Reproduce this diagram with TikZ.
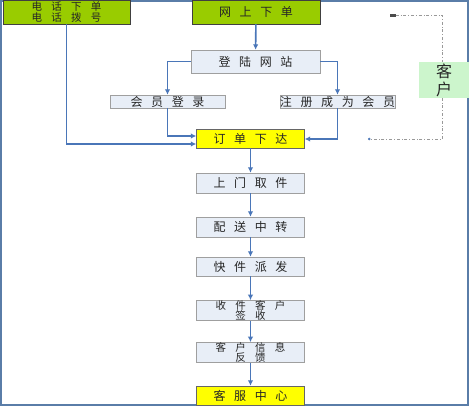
\documentclass[tikz,border=0pt]{standalone}
\usepackage{fontspec}
\newfontfamily\cjk[LetterSpace=72]{Noto Sans CJK SC}
\newfontfamily\cjkstretto[LetterSpace=88]{Noto Sans CJK SC}
\newfontfamily\cjkbig{Noto Sans CJK SC}
\usetikzlibrary{arrows.meta}
\definecolor{cornice}{HTML}{5A7DA8}
\definecolor{freccia}{HTML}{4A76B8}
\definecolor{verde}{HTML}{99CC00}
\definecolor{grigioblu}{HTML}{E8EEF7}
\definecolor{giallo}{HTML}{FFFF00}
\definecolor{verdino}{HTML}{CCF5CC}

\begin{document}
\begin{tikzpicture}[x=1pt, y=-1pt,
    passo/.style={draw=gray!75, fill=grigioblu, minimum width=108pt, minimum height=20pt, inner sep=0pt,
      align=center, text=black!85, font=\cjk\fontsize{12}{12}\selectfont},
    doppio/.style={passo, font=\cjkstretto\fontsize{10.5}{10.5}\selectfont},
    inizio/.style={passo, draw=black!75, fill=verde},
    evidenza/.style={passo, draw=black!60, fill=giallo},
    freccia/.style={draw=freccia, line width=1.6pt, -{Latex[length=5.5pt,width=5.5pt]}}]
  % Cornice e area
  \useasboundingbox (0,0) rectangle (469,406);
  \draw[cornice, line width=2pt] (1,1) rectangle (468,405);

  % Definizione dei nodi
  \node[inizio, minimum width=127pt, minimum height=24pt, font=\cjkstretto\fontsize{10.5}{10.5}\selectfont] (tel) at (66.5,12) {电话下单\\电话拨号};
  \node[inizio, minimum width=128pt, minimum height=24pt] (web) at (256,12) {网上下单};
  \node[passo, minimum width=129pt, minimum height=23pt] (sito) at (255.5,61.5) {登陆网站};
  \node[passo, minimum width=115pt, minimum height=13pt] (socio) at (167.5,101.5) {会员登录};
  \node[passo, minimum width=115pt, minimum height=13pt] (iscr) at (337.5,101.5) {注册成为会员};
  \node[evidenza, minimum height=19pt] (ordine) at (250.5,138.5) {订单下达};
  \node[passo] (ritiro) at (250.5,183) {上门取件};
  \node[passo] (transito) at (250.5,227) {配送中转};
  \node[passo, minimum height=19pt] (invio) at (250.5,266.5) {快件派发};
  \node[doppio, minimum height=19pt] (firma) at (250.5,310.5) {收件客户\\签收};
  \node[doppio, minimum height=19pt] (riscontro) at (250.5,352.5) {客户信息\\反馈};
  \node[evidenza, minimum height=19pt] (servizio) at (250.5,395.5) {客服中心};

  % Cliente e linea tratteggiata
  \coordinate (capo) at (390,15);
  \coordinate (coda) at (368,139);
  \coordinate (lato) at (442,80);
  \draw[gray!80, line width=0.6pt, dash dot, {Rectangle[length=6pt,width=2.5pt,black!70]}-{Circle[length=2.5pt,freccia]}]
    (capo) -| (lato) |- (coda);
  \node[fill=verdino, minimum width=50pt, minimum height=36pt, inner sep=0pt, align=center,
    font=\cjkbig\fontsize{16}{18}\selectfont, text=black!85] (cliente) at (444,80) {客\\户};

  % Definizione degli archi
  \draw[freccia] (web) -- (sito);
  \draw[freccia] (sito.west) -| (socio.north);
  \draw[freccia] (sito.east) -| (iscr.north);
  \draw[freccia] (socio.south) |- ([yshift=2.5pt]ordine.west);
  \draw[freccia] (tel.south) |- ([yshift=-5.5pt]ordine.west);
  \draw[freccia] (iscr.south) |- ([yshift=-0.5pt]ordine.east);
  \foreach \a/\b in {ordine/ritiro, ritiro/transito, transito/invio, invio/firma, firma/riscontro, riscontro/servizio}
    \draw[freccia] (\a) -- (\b);
\end{tikzpicture}
\end{document}
